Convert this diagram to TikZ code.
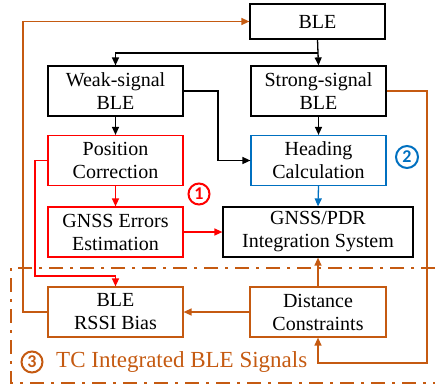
\documentclass[tikz,border=0pt]{standalone}
\usepackage{fontspec}
\setmainfont{Liberation Serif}
\newfontfamily\numfont{Carlito}
\usetikzlibrary{arrows.meta}
\definecolor{borange}{RGB}{197,90,17}
\definecolor{bred}{RGB}{255,0,0}
\definecolor{bblue}{RGB}{0,112,192}
\begin{document}
\begin{tikzpicture}[x=1pt,y=-1pt,
  box/.style={draw,line width=1.2pt,minimum width=135pt,minimum height=50pt,inner sep=0pt,
    align=center,font=\fontsize{20}{23}\selectfont},
  conn/.style={line width=1.3pt,-{Triangle[length=8pt,width=7pt]}},
  plain/.style={line width=1.3pt},
  num/.style={circle,draw,line width=2pt,minimum size=21pt,inner sep=0pt,font=\numfont\bfseries\fontsize{18}{18}\selectfont}]
\useasboundingbox (0,0) rectangle (435,386);
% nodes
\node[box,minimum height=35pt] (ble) at (317.5,21.5) {BLE};
\node[box] (weak) at (115.5,91) {Weak-signal\\BLE};
\node[box] (strong) at (318.5,91) {Strong-signal\\BLE};
\node[box,draw=bred] (pos) at (115.5,160.5) {Position\\Correction};
\node[box,draw=bblue] (head) at (318.5,160.5) {Heading\\Calculation};
\node[box,draw=bred] (gerr) at (115.5,232) {GNSS Errors\\Estimation};
\node[box,minimum width=190pt] (gnss) at (318,232) {GNSS/PDR\\Integration System};
\node[box,draw=borange] (rssi) at (115.5,312) {BLE\\RSSI Bias};
\node[box,draw=borange,minimum width=136pt] (dist) at (318,312) {Distance\\Constraints};
% dash-dot region
\draw[borange,line width=2.5pt,dash pattern=on 14pt off 7pt on 3pt off 7pt]
  (435,268) -- (11,268) -- (11,383) -- (435,383);
% coordinates
\coordinate (j1) at (318,53);
\coordinate (j2) at (218,91);
\coordinate (r1) at (35,160.5);
\coordinate (r2) at (35,276);
\coordinate (o1) at (23,312);
\coordinate (o2) at (427,91);
\coordinate (o3) at (427,363);
% black connectors
\draw[plain] (ble.south) -- (j1);
\draw[conn] (j1) -| (weak.north);
\draw[conn] (j1) -- (strong.north);
\draw[conn] (weak.east) -- (j2) |- (head.west);
\draw[conn] (weak.south) -- (pos.north);
\draw[conn] (strong.south) -- (head.north);
% red
\draw[conn,bred] (pos.south) -- (gerr.north);
\draw[conn,bred] (gerr.east) -- (gnss.west);
\draw[conn,bred] (pos.west) -- (r1) -- (r2) -| (rssi.north);
% blue
\draw[conn,bblue] (head.south) -- (gnss.north);
% orange
\draw[conn,borange] (dist.north) -- (gnss.south);
\draw[conn,borange] (dist.west) -- (rssi.east);
\draw[conn,borange] (strong.east) -- (o2) -- (o3) -| (dist.south);
\draw[conn,borange] (rssi.west) -- (o1) |- (ble.west);
% labels
\node[num,draw=bred,text=bred] (n1) at (199,194) {1};
\node[num,draw=bblue,text=bblue,minimum size=22pt] (n2) at (407,157) {2};
\node[num,draw=borange,text=borange] (n3) at (32,362) {3};
\node[anchor=west,text=borange,inner sep=0pt,font=\fontsize{23}{23}\selectfont] (tc) at (56,362) {TC Integrated BLE Signals};
\end{tikzpicture}
\end{document}
